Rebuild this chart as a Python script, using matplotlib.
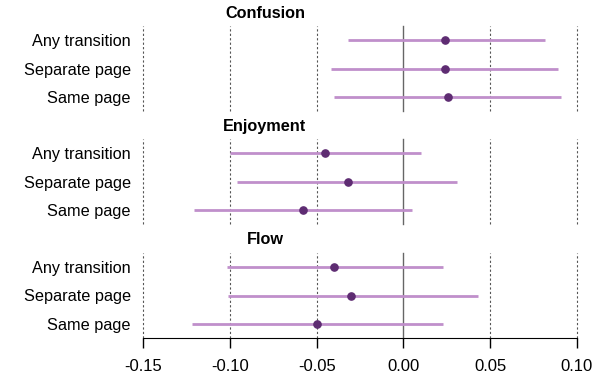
import matplotlib.pyplot as plt
import numpy as np

plt.rcParams['font.family'] = ['Liberation Sans', 'DejaVu Sans']

conditions = ["Any transition", "Separate page", "Same page"]
measures = ["Confusion", "Enjoyment", "Flow"]

estimates = {
    "Confusion": [0.024, 0.024, 0.026],
    "Enjoyment": [-0.045, -0.032, -0.058],
    "Flow": [-0.040, -0.030, -0.050],
}
lower = {
    "Confusion": [-0.032, -0.042, -0.040],
    "Enjoyment": [-0.100, -0.096, -0.121],
    "Flow": [-0.102, -0.101, -0.122],
}
upper = {
    "Confusion": [0.082, 0.089, 0.091],
    "Enjoyment": [0.010, 0.031, 0.005],
    "Flow": [0.023, 0.043, 0.023],
}
xticks = [-0.15, -0.10, -0.05, 0.00, 0.05, 0.10]

line_col = "#c08fcb"
dot_col = "#5e2c72"

fig = plt.figure(figsize=(6, 3.75), dpi=100)

# panel tops in pixels, panel height
tops = [26, 139, 253]
h = 85

for k, m in enumerate(measures):
    bottom = 1 - (tops[k] + h) / 375
    ax = fig.add_axes([143.3 / 600, bottom, 433.4 / 600, h / 375])
    y = np.arange(1, len(conditions) + 1)
    for xv in xticks:
        if xv == 0:
            ax.axvline(xv, color="#666666", lw=1.0, zorder=1, clip_on=False)
        else:
            ax.axvline(xv, color="#555555", lw=0.8, ls=(0, (2, 2)), zorder=1,
                       clip_on=False)
    ax.hlines(y, lower[m], upper[m], color=line_col, lw=2.0, zorder=2)
    ax.plot(estimates[m], y, "o", color=dot_col, ms=5.2, zorder=3)
    ax.set_xlim(-0.15, 0.10)
    ax.set_ylim(3.5, 0.5)
    ax.set_yticks(y)
    ax.set_yticklabels(conditions, fontsize=11.7)
    ax.tick_params(axis="y", length=0, pad=9)
    for s in ["top", "right", "left", "bottom"]:
        ax.spines[s].set_visible(False)
    if k == len(measures) - 1:
        ax.spines["bottom"].set_visible(True)
        ax.spines["bottom"].set_color("black")
        ax.set_xticks(xticks)
        ax.set_xticklabels([f"{v:.2f}" for v in xticks], fontsize=12)
        ax.tick_params(axis="x", length=7, pad=8, width=1)
    else:
        ax.set_xticks([])
    fig.text(265 / 600, 1 - (tops[k] - 13) / 375, m, ha="center", va="center",
             fontsize=11.7, fontweight="bold")

plt.savefig("out.png", dpi=100)
plt.close()
